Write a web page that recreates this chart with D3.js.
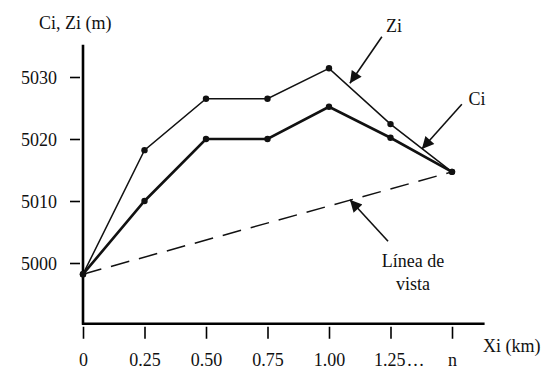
<!DOCTYPE html>
<html><head><meta charset="utf-8">
<script src="https://cdn.jsdelivr.net/npm/d3@7"></script>
<style>
html,body{margin:0;padding:0;background:#fff;}
svg text{font-family:"Liberation Serif",LiberationSerif,Times,"Times New Roman","Nimbus Roman","DejaVu Serif",serif !important;fill:#111;}
</style></head>
<body><svg id="c" width="553" height="371"></svg>
<script>
const xLabels = ["0","0.25","0.50","0.75","1.00","1.25","n"];
const yTicks = [5000,5010,5020,5030];
const zi = [4998.2,5018.2,5026.5,5026.5,5031.4,5022.4,5014.7];
const ci = [4998.2,5010.0,5020.0,5020.0,5025.2,5020.2,5014.7];
const sightLine = [4998.2,5014.7];

const svg = d3.select("#c");
const x = d3.scaleLinear().domain([0,6]).range([83,452]);
const y = d3.scaleLinear().domain([5000,5030]).range([263,77]);
const xAxisEnd = 6.53, yAxisTop = 5035.2, yAxisBottom = 4990.2;

svg.append("line").attr("x1",x(0)).attr("x2",x(0)).attr("y1",y(yAxisTop)).attr("y2",y(yAxisBottom)+1)
  .attr("stroke","#000").attr("stroke-width",2.6);
svg.append("line").attr("x1",x(0)-1).attr("x2",x(xAxisEnd)).attr("y1",y(yAxisBottom)).attr("y2",y(yAxisBottom))
  .attr("stroke","#000").attr("stroke-width",2.6);

const ya = svg.append("g").attr("transform",`translate(${x(0)-3},0)`)
  .call(d3.axisLeft(y).tickValues(yTicks).tickSize(10).tickPadding(13).tickFormat(d3.format("d")));
ya.attr("font-family",null).attr("font-size",null);
ya.select(".domain").remove();
ya.selectAll("line").attr("stroke","#000").attr("stroke-width",1.6);
ya.selectAll("text").attr("font-size",18).attr("fill","#111").attr("dy","0.35em");

const xa = svg.append("g").attr("transform",`translate(0,${y(yAxisBottom)+3})`)
  .call(d3.axisBottom(x).tickValues(d3.range(7)).tickSize(12).tickPadding(14).tickFormat(i=>xLabels[i]));
xa.attr("font-family",null).attr("font-size",null);
xa.select(".domain").remove();
xa.selectAll("line").attr("stroke","#000").attr("stroke-width",1.6);
xa.selectAll("text").attr("font-size",18).attr("fill","#111");
xa.selectAll(".tick").filter(d=>d===5).select("text").append("tspan").attr("dx",1).text("\u2026")
  .each(function(){ d3.select(this.parentNode).attr("text-anchor","start").attr("x",-17); });

svg.append("line").attr("x1",x(0)).attr("y1",y(sightLine[0])).attr("x2",x(6)).attr("y2",y(sightLine[1]))
  .attr("stroke","#111").attr("stroke-width",1.5).attr("stroke-dasharray","19,10");

const line = d3.line().x((d,i)=>x(i)).y(d=>y(d));
svg.append("path").datum(zi).attr("d",line).attr("fill","none").attr("stroke","#111").attr("stroke-width",1.5);
svg.append("path").datum(ci).attr("d",line).attr("fill","none").attr("stroke","#111").attr("stroke-width",2.6);
svg.selectAll(".dz").data(zi).join("circle").attr("cx",(d,i)=>x(i)).attr("cy",d=>y(d)).attr("r",3.2).attr("fill","#111");
svg.selectAll(".dc").data(ci).join("circle").attr("cx",(d,i)=>x(i)).attr("cy",d=>y(d)).attr("r",3.2).attr("fill","#111");

svg.append("defs").append("marker").attr("id","ah").attr("viewBox","0 0 10 10").attr("refX",10).attr("refY",5)
  .attr("markerWidth",18).attr("markerHeight",12).attr("markerUnits","userSpaceOnUse").attr("orient","auto")
  .append("path").attr("d","M0,0L10,5L0,10z").attr("fill","#111");
const arrows = [
  {x1:4.86,y1:5036.5,x2:4.34,y2:5029.0},
  {x1:6.16,y1:5025.6,x2:5.51,y2:5018.4},
  {x1:4.96,y1:5003.5,x2:4.34,y2:5010.2}
];
svg.selectAll(".arr").data(arrows).join("line").attr("x1",d=>x(d.x1)).attr("y1",d=>y(d.y1))
  .attr("x2",d=>x(d.x2)).attr("y2",d=>y(d.y2)).attr("stroke","#111").attr("stroke-width",1.6).attr("marker-end","url(#ah)");

const T=(tx,ty,s,anchor)=>svg.append("text").attr("x",tx).attr("y",ty).attr("font-size",18).attr("text-anchor",anchor||"middle").text(s);
T(394,32,"Zi");
T(477,105,"Ci");
T(413,267,"Línea de");
T(413,290,"vista");
T(483,352,"Xi (km)","start");
T(39,29,"Ci, Zi (m)","start");
</script></body></html>
